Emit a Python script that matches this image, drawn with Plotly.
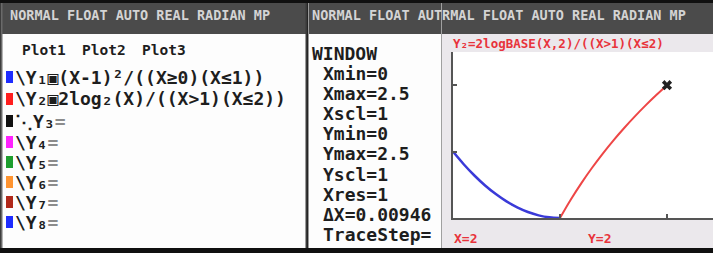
import plotly.graph_objects as go

W, H = 713, 253

# ---------------- data ----------------
header_full = "NORMAL FLOAT AUTO REAL RADIAN MP"
header_mid = "NORMAL FLOAT AUT"
header_right = "RMAL FLOAT AUTO REAL RADIAN MP"
plot_labels = ["Plot1", "Plot2", "Plot3"]
y_names = ["Y₁", "Y₂", "Y₃", "Y₄", "Y₅", "Y₆", "Y₇", "Y₈"]
y_styles = ["\\", "\\", "⋱", "\\", "\\", "\\", "\\", "\\"]
y_colors = ["#1e2cff", "#ff1e1e", "#111111", "#ff22ff", "#1e9e2e", "#ff9430", "#b0281a", "#1e2cff"]
y_exprs = ["(X-1)²/((X≥0)(X≤1))", "2log₂(X)/((X>1)(X≤2))", "", "", "", "", "", ""]
window_title = "WINDOW"
window_labels = ["Xmin=0", "Xmax=2.5", "Xscl=1", "Ymin=0", "Ymax=2.5",
                 "Yscl=1", "Xres=1", "ΔX=0.00946", "TraceStep="]
graph_title = "Y₂=2logBASE(X,2)/((X>1)(X≤2)"
trace_labels = ["X=2", "Y=2"]

x_range = [0, 2.43]
y_range = [0, 2.5]
tick_vals = [1, 2]

blue_x = [0.0, 0.1, 0.2, 0.3, 0.4, 0.5, 0.6, 0.7, 0.8, 0.9, 1.0]
blue_y = [1.0, 0.81, 0.64, 0.49, 0.36, 0.25, 0.16, 0.09, 0.04, 0.01, 0.0]
red_x = [1.0, 1.1, 1.2, 1.3, 1.4, 1.5, 1.6, 1.7, 1.8, 1.9, 2.0]
red_y = [0.0, 0.275, 0.526, 0.757, 0.971, 1.170, 1.356, 1.531, 1.696, 1.852, 2.0]
cursor_x = [2.0]
cursor_y = [2.0]

# ---------------- helpers ----------------
def fx(x):
    return x / W

def fy(y):
    return 1 - y / H

MONO = "DejaVu Sans Mono"
BODY = 18
shapes = []
annots = []

def rect(x0, y0, x1, y1, color):
    shapes.append(dict(type="rect", xref="paper", yref="paper",
                       x0=fx(x0), x1=fx(x1), y0=fy(y1), y1=fy(y0),
                       fillcolor=color, line=dict(width=0), layer="below"))

def vline(x, y0, y1, color, w=1):
    shapes.append(dict(type="line", xref="paper", yref="paper",
                       x0=fx(x), x1=fx(x), y0=fy(y1), y1=fy(y0),
                       line=dict(color=color, width=w), layer="below"))

def text(x, y, s, size, color="#1e1e1e", weight="bold"):
    annots.append(dict(x=fx(x), y=fy(y), xref="paper", yref="paper", text=s,
                       showarrow=False, xanchor="left", yanchor="middle",
                       borderpad=0,
                       font=dict(family=MONO, size=size, color=color, weight=weight)))

# ---------------- backgrounds ----------------
rect(0, 0, W, H, "#101010")
rect(1, 3, 306, 248, "#fdfdfd")          # panel 1
rect(308, 3, 441, 248, "#fdfdfd")        # panel 2
rect(442, 3, W, 248, "#ebe8ec")          # panel 3
rect(453, 52, W, 218, "#ffffff")         # plot area
rect(1, 3, 306, 34, "#4b4b4b")           # headers
rect(308, 3, 441, 34, "#4b4b4b")
rect(442, 3, W, 34, "#4b4b4b")
vline(306.5, 3, 248, "#3a3a3a", 2)
vline(308.5, 3, 248, "#9a9a9a", 1)
vline(441.5, 3, 248, "#a0a0a0", 1)
vline(1.5, 3, 248, "#6a6a6a", 2)

# ---------------- header texts ----------------
text(9, 15, header_full, 13.5, "#d4d4d4")
text(311, 15, header_mid, 13.5, "#d4d4d4")
text(441, 15, header_right, 13.5, "#d4d4d4")

# ---------------- panel 1: Y= editor ----------------
for i, lab in enumerate(plot_labels):
    text(21 + 60 * i, 50, lab, 14.5)

y_rows = [77, 99, 121, 142, 162, 182, 202, 222]
for i, name in enumerate(y_names):
    yc = y_rows[i]
    rect(6, yc - 6, 13, yc + 6, y_colors[i])
    if y_exprs[i]:
        s = y_styles[i] + name + "▣" + y_exprs[i]
    else:
        s = y_styles[i] + name + "<span style='color:#8c8c8c'>=</span>"
    text(14, yc, s, BODY)

# ---------------- panel 2: WINDOW ----------------
text(311, 53, window_title, BODY)
for i, lab in enumerate(window_labels):
    text(322, 73 + 20.2 * i, lab, BODY)

# ---------------- panel 3: graph ----------------
text(452, 43, graph_title, 12.5, "#e8333b")
text(453, 238, trace_labels[0], 13, "#e8333b")
text(587, 238, trace_labels[1], 13, "#e8333b")

fig = go.Figure()
fig.add_trace(go.Scatter(x=blue_x, y=blue_y, mode="lines",
                         line=dict(color="#3a3ad8", width=2.5, shape="spline"),
                         cliponaxis=False, hoverinfo="skip"))
fig.add_trace(go.Scatter(x=red_x, y=red_y, mode="lines",
                         line=dict(color="#ee4646", width=2, shape="spline"),
                         cliponaxis=False, hoverinfo="skip"))
fig.add_trace(go.Scatter(x=cursor_x, y=cursor_y, mode="markers",
                         marker=dict(symbol="x", size=9, color="#222222",
                                     line=dict(width=0)),
                         cliponaxis=False, hoverinfo="skip"))

fig.update_layout(
    width=W, height=H,
    margin=dict(l=0, r=0, t=0, b=0),
    paper_bgcolor="#101010",
    plot_bgcolor="rgba(0,0,0,0)",
    showlegend=False,
    shapes=shapes,
    annotations=annots,
    xaxis=dict(domain=[fx(453), 1], range=x_range, showgrid=False, zeroline=False,
               showline=True, linecolor="#555555", linewidth=2,
               ticks="inside", tickvals=tick_vals, ticklen=4, tickcolor="#555555",
               tickwidth=1.5, showticklabels=False, fixedrange=True),
    yaxis=dict(domain=[fy(218), fy(52)], range=y_range, showgrid=False, zeroline=False,
               showline=True, linecolor="#555555", linewidth=2,
               ticks="inside", tickvals=tick_vals, ticklen=4, tickcolor="#555555",
               tickwidth=1.5, showticklabels=False, fixedrange=True),
)

fig.write_html("out.html", config={"displayModeBar": False},
               post_script="document.body.style.margin='0';document.body.style.padding='0';")
